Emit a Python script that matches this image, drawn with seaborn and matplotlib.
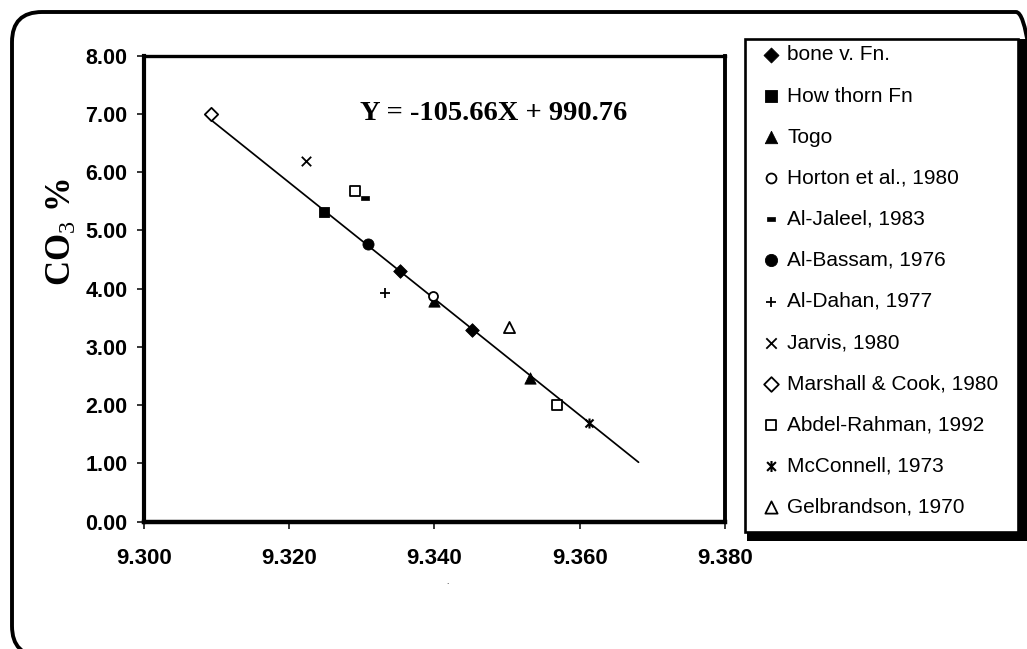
import matplotlib
matplotlib.use("Agg")
import matplotlib.pyplot as plt
import seaborn as sns
from matplotlib.patches import FancyBboxPatch, Rectangle
from matplotlib.path import Path
from matplotlib.transforms import IdentityTransform
from matplotlib.ticker import FormatStrFormatter, MultipleLocator

# values
bone_x = [9.3352, 9.3451]
bone_y = [4.30, 3.29]
howthorn_x = [9.3248]
howthorn_y = [5.31]
togo_x = [9.3400, 9.3531]
togo_y = [3.78, 2.46]
horton_x = [9.3398]
horton_y = [3.87]
jaleel_x = [9.3305]
jaleel_y = [5.55]
bassam_x = [9.3309]
bassam_y = [4.76]
dahan_x = [9.3332]
dahan_y = [3.93]
jarvis_x = [9.3223]
jarvis_y = [6.20]
marshall_x = [9.3092]
marshall_y = [7.00]
abdel_x = [9.3290, 9.3569]
abdel_y = [5.68, 2.00]
mcconnell_x = [9.3613]
mcconnell_y = [1.69]
gelb_x = [9.3503]
gelb_y = [3.35]

# trend line end points
fit_x = [9.3092, 9.3681]
fit_y = [6.90, 1.02]

equation = "Y = -105.66X + 990.76"

sns.set_theme(style="white")
plt.rcParams['font.family'] = ['Liberation Sans', 'DejaVu Sans']
plt.rcParams['mathtext.fontset'] = 'custom'
plt.rcParams['mathtext.rm'] = 'Liberation Serif'
plt.rcParams['mathtext.it'] = 'Liberation Serif:italic'
plt.rcParams['mathtext.bf'] = 'Liberation Serif:bold'

# custom markers
star = Path([(-1, -1), (1, 1), (-1, 1), (1, -1), (0, -1.25), (0, 1.25)],
            [Path.MOVETO, Path.LINETO] * 3)
dash = Path([(-1, -0.45), (1, -0.45), (1, 0.45), (-1, 0.45), (-1, -0.45)],
            [Path.MOVETO, Path.LINETO, Path.LINETO, Path.LINETO, Path.CLOSEPOLY])

# label, x, y, marker, face, size, line width
series = [
    ("bone v. Fn.", bone_x, bone_y, "D", "black", 48, 0.6),
    ("How thorn Fn", howthorn_x, howthorn_y, "s", "black", 52, 0.6),
    ("Togo", togo_x, togo_y, "^", "black", 66, 0.6),
    ("Horton et al., 1980", horton_x, horton_y, "o", "white", 42, 1.3),
    ("Al-Jaleel, 1983", jaleel_x, jaleel_y, dash, "black", 26, 0.5),
    ("Al-Bassam, 1976", bassam_x, bassam_y, "o", "black", 64, 0.6),
    ("Al-Dahan, 1977", dahan_x, dahan_y, "+", "black", 50, 1.3),
    ("Jarvis, 1980", jarvis_x, jarvis_y, "x", "black", 46, 1.3),
    ("Marshall & Cook, 1980", marshall_x, marshall_y, "D", "white", 46, 1.3),
    ("Abdel-Rahman, 1992", abdel_x, abdel_y, "s", "white", 48, 1.3),
    ("McConnell, 1973", mcconnell_x, mcconnell_y, star, "black", 52, 1.5),
    ("Gelbrandson, 1970", gelb_x, gelb_y, "^", "white", 64, 1.3),
]

fig = plt.figure(figsize=(10.27, 6.49), dpi=100)
ax = fig.add_axes([0.1402, 0.1962, 0.5657, 0.7180])

sns.lineplot(x=fit_x, y=fit_y, color="black", linewidth=1.25, ax=ax, zorder=2)

for label, xs, ys, mk, face, size, lw in series:
    sns.scatterplot(x=xs, y=ys, marker=mk, s=size, facecolor=face,
                    edgecolor="black", linewidth=lw, label=label,
                    ax=ax, zorder=3, legend=False)

ax.set_xlim(9.300, 9.380)
ax.set_ylim(0, 8)
ax.xaxis.set_major_locator(MultipleLocator(0.02))
ax.yaxis.set_major_locator(MultipleLocator(1.0))
ax.xaxis.set_major_formatter(FormatStrFormatter("%.3f"))
ax.yaxis.set_major_formatter(FormatStrFormatter("%.2f"))
ax.tick_params(axis="x", direction="out", length=5, width=1.1, color="black",
               labelsize=16, pad=14, bottom=True)
ax.tick_params(axis="y", direction="out", length=5, width=1.1, color="black",
               labelsize=15.5, pad=7, left=True)
for t in ax.get_xticklabels() + ax.get_yticklabels():
    t.set_fontweight("bold")
    t.set_color("black")
for side, w in [("left", 3.0), ("bottom", 3.2), ("top", 2.4), ("right", 2.8)]:
    ax.spines[side].set_color("black")
    ax.spines[side].set_linewidth(w)
ax.set_xlabel("")
ax.set_ylabel("")

ax.text(9.3482, 7.00, equation, ha="center", va="center",
        fontfamily="Liberation Serif", fontweight="bold", fontsize=20.5,
        color="black")

fig.text(62 / 1027, 1 - 232 / 649, r"CO$_3$ %", rotation=90,
         ha="center", va="center", fontfamily="Liberation Serif",
         fontweight="bold", fontsize=25, color="black")
fig.text(447.7 / 1027, 1 - 583 / 649, ".", ha="center", va="center",
         fontsize=6, color="black")

# legend box with a heavy drop shadow on the right and bottom (pixel coords)
px = IdentityTransform()
fig.add_artist(Rectangle((747, 108), 300, 502, transform=px,
                         facecolor="black", edgecolor="none", zorder=1))
fig.add_artist(Rectangle((745, 117), 273, 493, transform=px,
                         facecolor="white", edgecolor="black",
                         linewidth=1.9, zorder=2))

handles, labels = ax.get_legend_handles_labels()
leg = fig.legend(handles, labels, loc="upper left",
                 bbox_to_anchor=(758 / 1027, 1 - 45.5 / 649),
                 bbox_transform=fig.transFigure, borderaxespad=0,
                 fontsize=15, frameon=False, borderpad=0,
                 labelspacing=1.06, handlelength=1.2, markerscale=1.1,
                 handletextpad=0.2, scatterpoints=1)
leg.set_zorder(3)
for t in leg.get_texts():
    t.set_color("black")

# rounded outer border of the chart area
border = FancyBboxPatch((12, -7), 1034, 644,
                        boxstyle="round,pad=0,rounding_size=30",
                        transform=px, facecolor="none",
                        edgecolor="black", linewidth=2.8, zorder=4)
fig.add_artist(border)

fig.savefig("out.png", dpi=100)
